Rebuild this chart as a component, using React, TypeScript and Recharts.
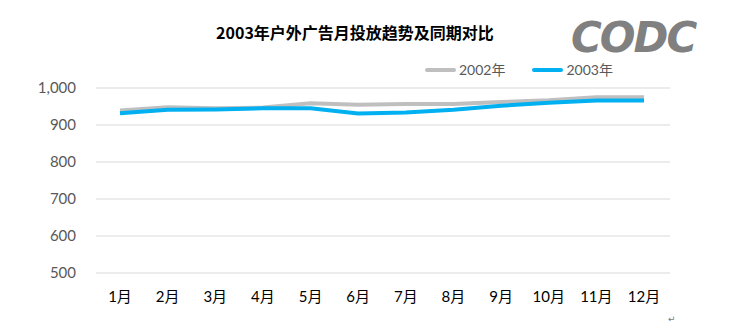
import React from 'react';
import { LineChart, Line, XAxis, YAxis, CartesianGrid } from 'recharts';

/** 月份 */
const MONTHS = ['1月', '2月', '3月', '4月', '5月', '6月', '7月', '8月', '9月', '10月', '11月', '12月'];
/** 2002年 月投放 */
const VALUES_2002 = [939, 948, 945, 947, 959, 955, 957, 957, 962, 967, 975, 975];
/** 2003年 月投放 */
const VALUES_2003 = [932, 941, 942, 945, 945, 931, 934, 941, 952, 960, 966, 966];
/** Y 轴刻度 */
const Y_TICKS = [500, 600, 700, 800, 900, 1000];

const SERIES = [
  { key: 'y2002', name: '2002年', color: '#bfbfbf' },
  { key: 'y2003', name: '2003年', color: '#00b0f0' },
];

const data = MONTHS.map((m, i) => ({ month: m, y2002: VALUES_2002[i], y2003: VALUES_2003[i] }));

const fmt = (v: number) => v.toLocaleString('en-US');

function LegendBox() {
  return (
    <div style={{ position: 'absolute', left: 425, top: 61, display: 'flex', alignItems: 'center', fontFamily: 'Lato, "Noto Sans CJK SC", sans-serif', fontSize: 14, color: '#595959', lineHeight: '18px' }}>
      {SERIES.map((s) => (
        <div key={s.key} style={{ display: 'flex', alignItems: 'center', marginRight: 27 }}>
          <span style={{ display: 'inline-block', width: 31, height: 4, borderRadius: 2, background: s.color, marginRight: 3 }} />
          <span>{s.name}</span>
        </div>
      ))}
    </div>
  );
}

export default function App() {
  return (
    <div style={{ position: 'absolute', left: 0, top: 0, width: 729, height: 329, background: '#fff' }}>
      <div style={{ position: 'absolute', left: 0, width: 710, top: 20, textAlign: 'center', fontFamily: '"Noto Sans CJK SC", sans-serif', fontWeight: 700, fontSize: 16, color: '#000', lineHeight: '24px' }}>
        2003年户外广告月投放趋势及同期对比
      </div>
      <div style={{ position: 'absolute', left: 571, top: 15, fontFamily: '"DejaVu Sans", sans-serif', fontWeight: 700, fontStyle: 'italic', fontSize: 42, letterSpacing: -2, color: '#808080', lineHeight: '46px' }}>
        CODC
      </div>
      <LineChart width={729} height={329} data={data} margin={{ top: 88, right: 59, bottom: 26, left: 0 }}>
        <CartesianGrid horizontal vertical={false} stroke="#d9d9d9" />
        <XAxis
          dataKey="month"
          axisLine={false}
          tickLine={false}
          padding={{ left: 24, right: 26 }}
          tick={{ fontSize: 15, fill: '#000', fontFamily: 'Lato, "Noto Sans CJK SC", sans-serif' }}
          tickMargin={12}
          interval={0}
        />
        <YAxis
          domain={[500, 1000]}
          ticks={Y_TICKS}
          width={96}
          axisLine={false}
          tickLine={false}
          tickSize={0}
          tickMargin={20}
          tickFormatter={fmt}
          tick={{ fontSize: 15, fill: '#595959', fontFamily: 'Lato, sans-serif' }}
        />
        {SERIES.map((s) => (
          <Line
            key={s.key}
            dataKey={s.key}
            name={s.name}
            stroke={s.color}
            strokeWidth={4}
            dot={false}
            type="linear"
            isAnimationActive={false}
          />
        ))}
      </LineChart>
      <LegendBox />
      <div style={{ position: 'absolute', left: 668, top: 314, fontSize: 9, color: '#777', fontFamily: '"DejaVu Sans", sans-serif' }}>↵</div>
    </div>
  );
}
